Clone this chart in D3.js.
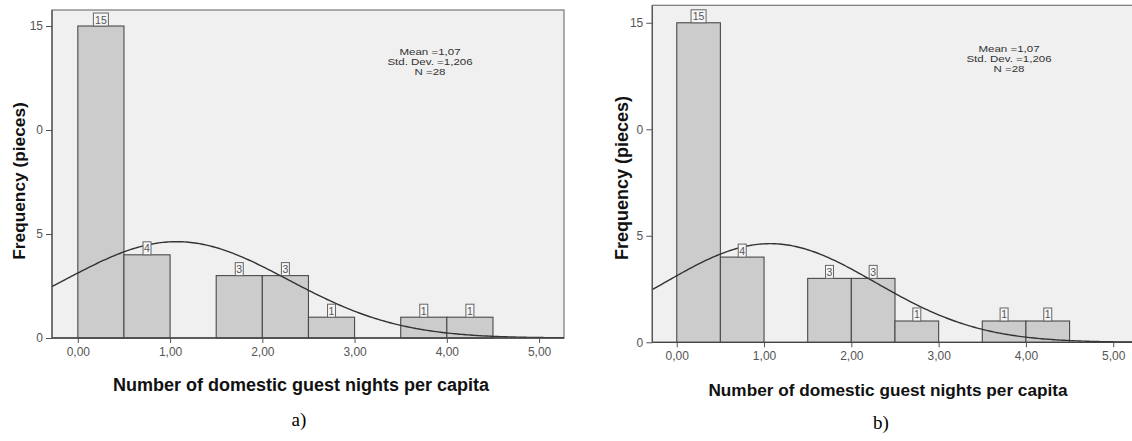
<!DOCTYPE html>
<html>
<head>
<meta charset="utf-8">
<script src="https://cdn.jsdelivr.net/npm/d3@7/dist/d3.min.js"></script>
<style>
  html, body { margin: 0; padding: 0; background: #ffffff; }
  svg { display: block; }
</style>
</head>
<body>
<svg id="chart" width="1132" height="441"></svg>
<script>
// Histogram bins (lower edge, width 0.5) and frequencies
const binStarts = [0.0, 0.5, 1.0, 1.5, 2.0, 2.5, 3.0, 3.5, 4.0];
const binWidth = 0.5;
const counts = [15, 4, 0, 3, 3, 1, 0, 1, 1];

// Axis ticks
const xTicks = [0, 1, 2, 3, 4, 5];
const xTickLabels = ["0,00", "1,00", "2,00", "3,00", "4,00", "5,00"];
const yTicks = [0, 5, 10, 15];
const yTickLabels = ["0", "5", "0", "15"];

// Summary statistics shown in the plot
const meanValue = 1.07;
const sdValue = 1.206;
const nValue = 28;
const statLines = ["Mean =1,07", "Std. Dev. =1,206", "N =28"];

const xTitle = "Number of domestic guest nights per capita";
const yTitle = "Frequency (pieces)";
const panelLabels = ["a)", "b)"];

// Layout of the two panels
const panels = [
  { left: 52, top: 10, bottom: 338, right: 564, xMin: -0.28, xMax: 5.27, yMax: 15.77,
    tickY: 356, titleX: 301, titleY: 391, titleSize: 18,
    yTitleX: 25, yTitleY: 181, yTitleSize: 17.3,
    statX: 430, statY: 54.5, labelX: 299, labelY: 426 },
  { left: 652.3, top: 5.3, bottom: 342.3, right: 1136.8, xMin: -0.28, xMax: 5.27, yMax: 15.82,
    tickY: 360, titleX: 888, titleY: 396, titleSize: 17.2,
    yTitleX: 628, yTitleY: 178, yTitleSize: 18,
    statX: 1009, statY: 51.5, labelX: 881, labelY: 429 }
];

const svg = d3.select("#chart");

function normalPdf(x, m, s) {
  const z = (x - m) / s;
  return Math.exp(-0.5 * z * z) / (s * Math.sqrt(2 * Math.PI));
}

panels.forEach((p, pi) => {
  const g = svg.append("g");
  const x = d3.scaleLinear().domain([p.xMin, p.xMax]).range([p.left, p.right]);
  const y = d3.scaleLinear().domain([0, p.yMax]).range([p.bottom, p.top]);

  const clipId = "clip" + pi;
  svg.append("defs").append("clipPath").attr("id", clipId)
    .append("rect").attr("x", p.left).attr("y", p.top)
    .attr("width", p.right - p.left).attr("height", p.bottom - p.top);

  // plot area
  g.append("rect")
    .attr("x", p.left).attr("y", p.top)
    .attr("width", p.right - p.left).attr("height", p.bottom - p.top)
    .attr("fill", "#f0f0f0").attr("stroke", "#777").attr("stroke-width", 1.2);

  // bars
  const bars = binStarts.map((b, i) => ({ x0: b, x1: b + binWidth, n: counts[i] }))
    .filter(d => d.n > 0);
  g.selectAll("rect.bar").data(bars).enter().append("rect")
    .attr("class", "bar")
    .attr("x", d => x(d.x0)).attr("y", d => y(d.n))
    .attr("width", d => x(d.x1) - x(d.x0)).attr("height", d => y(0) - y(d.n))
    .attr("fill", "#cccccc").attr("stroke", "#4a4a4a").attr("stroke-width", 1.1);

  // fitted normal curve scaled to counts
  const curvePts = d3.range(0, 241).map(i => {
    const xv = p.xMin + (p.xMax - p.xMin) * i / 240;
    return [xv, nValue * binWidth * normalPdf(xv, meanValue, sdValue)];
  });
  g.append("path")
    .attr("clip-path", `url(#${clipId})`)
    .attr("d", d3.line().x(d => x(d[0])).y(d => y(d[1]))(curvePts))
    .attr("fill", "none").attr("stroke", "#333").attr("stroke-width", 1.4);

  // value labels in small boxes above bars
  bars.forEach(d => {
    const cx = x((d.x0 + d.x1) / 2);
    const txt = String(d.n);
    const w = txt.length > 1 ? 15 : 8;
    const lg = g.append("g");
    lg.append("rect")
      .attr("x", cx - w / 2).attr("y", y(d.n) - 13)
      .attr("width", w).attr("height", 13)
      .attr("fill", "#f6f6f6").attr("stroke", "#666").attr("stroke-width", 1);
    lg.append("text")
      .attr("x", cx).attr("y", y(d.n) - 2.5)
      .attr("text-anchor", "middle")
      .attr("font-family", "Liberation Sans, Arial, sans-serif")
      .attr("font-size", 10.5).attr("fill", "#555")
      .text(txt);
  });

  // axes lines
  g.append("line").attr("x1", p.left).attr("x2", p.left).attr("y1", p.top).attr("y2", p.bottom)
    .attr("stroke", "#555").attr("stroke-width", 1.3);
  g.append("line").attr("x1", p.left).attr("x2", p.right).attr("y1", p.bottom).attr("y2", p.bottom)
    .attr("stroke", "#444").attr("stroke-width", 1.3);

  // x axis
  const xAxis = d3.axisBottom(x).tickValues(xTicks).tickSize(5).tickPadding(5)
    .tickFormat((d, i) => xTickLabels[i]);
  const gx = g.append("g").attr("transform", `translate(0,${p.bottom})`).call(xAxis);
  gx.select(".domain").remove();
  gx.selectAll(".tick line").attr("stroke", "#555");
  gx.selectAll(".tick text")
    .attr("font-family", "Liberation Sans, Arial, sans-serif")
    .attr("font-size", 12).attr("fill", "#555")
    .attr("dy", null).attr("y", p.tickY - p.bottom);

  // y axis
  const yAxis = d3.axisLeft(y).tickValues(yTicks).tickSize(6).tickPadding(3)
    .tickFormat((d, i) => yTickLabels[i]);
  const gy = g.append("g").attr("transform", `translate(${p.left},0)`).call(yAxis);
  gy.select(".domain").remove();
  gy.selectAll(".tick line").attr("stroke", "#555");
  gy.selectAll(".tick text")
    .attr("font-family", "Liberation Sans, Arial, sans-serif")
    .attr("font-size", 12).attr("fill", "#555");

  // statistics block (slightly widened type, tight leading)
  statLines.forEach((s, i) => {
    g.append("text")
      .attr("transform", `translate(${p.statX},${p.statY + i * 10.2}) scale(1.2,1)`)
      .attr("text-anchor", "middle")
      .attr("font-family", "Liberation Sans, Arial, sans-serif")
      .attr("font-size", 9.6).attr("fill", "#333")
      .text(s);
  });

  // axis titles
  g.append("text")
    .attr("x", p.titleX).attr("y", p.titleY)
    .attr("text-anchor", "middle")
    .attr("font-family", "Liberation Sans, Arial, sans-serif")
    .attr("font-weight", "bold").attr("font-size", p.titleSize).attr("fill", "#111")
    .text(xTitle);
  g.append("text")
    .attr("transform", `translate(${p.yTitleX},${p.yTitleY}) rotate(-90)`)
    .attr("text-anchor", "middle")
    .attr("font-family", "Liberation Sans, Arial, sans-serif")
    .attr("font-weight", "bold").attr("font-size", p.yTitleSize).attr("fill", "#111")
    .text(yTitle);

  // panel label
  g.append("text")
    .attr("x", p.labelX).attr("y", p.labelY)
    .attr("text-anchor", "middle")
    .attr("font-family", "Liberation Serif, Times New Roman, serif")
    .attr("font-size", 19).attr("fill", "#000")
    .text(panelLabels[pi]);
});
</script>
</body>
</html>
